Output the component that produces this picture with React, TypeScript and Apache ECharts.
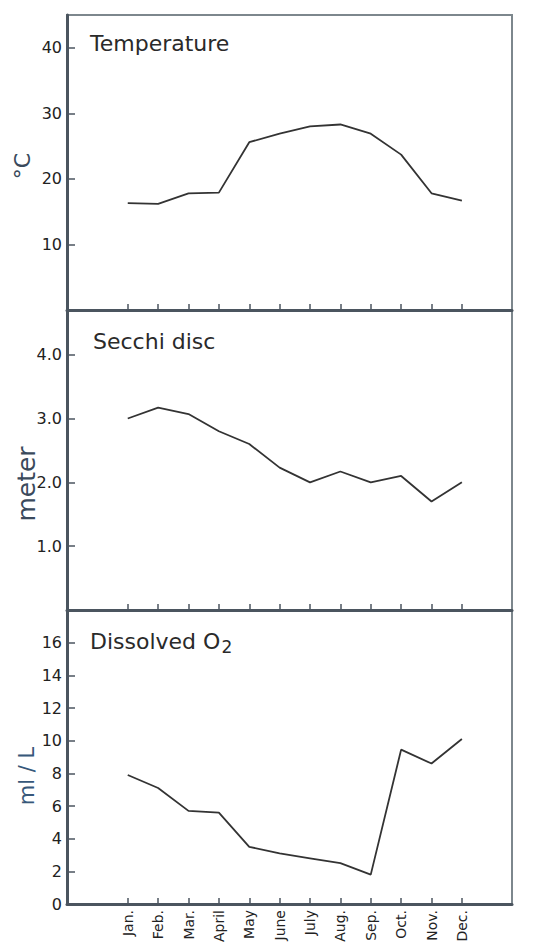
import React, { useEffect, useRef } from "react";
import * as echarts from "echarts";

const months = ["Jan.", "Feb.", "Mar.", "April", "May", "June", "July", "Aug.", "Sep.", "Oct.", "Nov.", "Dec."];
const temperature = [16.3, 16.2, 17.8, 17.9, 25.6, 26.9, 28.0, 28.3, 26.9, 23.7, 17.8, 16.7];
const secchi = [3.0, 3.17, 3.07, 2.8, 2.6, 2.23, 2.0, 2.17, 2.0, 2.1, 1.7, 2.0];
const oxygen = [7.9, 7.1, 5.7, 5.6, 3.5, 3.1, 2.8, 2.5, 1.8, 9.45, 8.6, 10.1];
const tempTicks = [10, 20, 30, 40];
const secchiTicks = [1, 2, 3, 4];
const oxygenTicks = [0, 2, 4, 6, 8, 10, 12, 14, 16];

const FONT = "DejaVu Sans";
const AXIS_COLOR = "#4b555f";
const TEXT_COLOR = "#222";
const LINE_COLOR = "#333";

export default function App() {
  const ref = useRef<HTMLDivElement>(null);
  useEffect(() => {
    if (!ref.current) return;
    const chart = echarts.init(ref.current, null, { renderer: "svg" });
    const monthIdx = months.map((_, i) => i + 1);
    const toData = (arr: number[]) => arr.map((v, i) => [i + 1, v]);

    const grids = [
      { left: 67, right: 38, top: 15, height: 295 },
      { left: 67, right: 38, top: 310, height: 300 },
      { left: 67, right: 38, top: 610, height: 294 },
    ].map((g) => ({ ...g, show: true, borderColor: "#7d878d", borderWidth: 2, containLabel: false }));

    const xAxes = [0, 1, 2].map((gi) => ({
      type: "value",
      gridIndex: gi,
      min: -1.0,
      max: 13.65,
      axisLine: { show: true, onZero: false, lineStyle: { color: AXIS_COLOR, width: 3 } },
      axisTick: {
        show: true,
        inside: true,
        length: 6,
        customValues: monthIdx,
        lineStyle: { color: AXIS_COLOR, width: 1.5 },
      },
      axisLabel: {
        show: gi === 2,
        customValues: monthIdx,
        rotate: 90,
        margin: 6,
        fontSize: 14,
        fontFamily: FONT,
        color: TEXT_COLOR,
        formatter: (v: number) => months[Math.round(v) - 1] ?? "",
      },
      splitLine: { show: false },
    }));

    const yCommon = {
      type: "value",
      axisLine: { show: true, onZero: false, lineStyle: { color: AXIS_COLOR, width: 3 } },
      axisTick: { show: true, inside: true, length: 8, lineStyle: { color: AXIS_COLOR, width: 1.5 } },
      splitLine: { show: false },
    };
    const labelStyle = { fontSize: 16, fontFamily: FONT, color: TEXT_COLOR, margin: 5 };

    const yAxes = [
      {
        ...yCommon,
        gridIndex: 0,
        min: 0,
        max: 45,
        axisTick: { ...yCommon.axisTick, customValues: tempTicks },
        axisLabel: { ...labelStyle, customValues: tempTicks, formatter: (v: number) => String(v) },
      },
      {
        ...yCommon,
        gridIndex: 1,
        min: 0,
        max: 4.7,
        axisTick: { ...yCommon.axisTick, customValues: secchiTicks },
        axisLabel: { ...labelStyle, customValues: secchiTicks, formatter: (v: number) => v.toFixed(1) },
      },
      {
        ...yCommon,
        gridIndex: 2,
        min: 0,
        max: 18,
        axisTick: { ...yCommon.axisTick, customValues: oxygenTicks },
        axisLabel: { ...labelStyle, customValues: oxygenTicks, formatter: (v: number) => String(v) },
      },
    ];

    const lineSeries = (data: number[], gi: number) => ({
      type: "line",
      xAxisIndex: gi,
      yAxisIndex: gi,
      data: toData(data),
      symbol: "none",
      lineStyle: { color: LINE_COLOR, width: 1.8 },
    });

    const titleStyle = { fontSize: 22, fontFamily: FONT, fill: "#2a2a2a" };
    const axisNameStyle = { fontSize: 22, fontFamily: FONT, fill: "#3a4a5c", align: "center", verticalAlign: "middle" };

    chart.setOption({
      animation: false,
      backgroundColor: "#ffffff",
      grid: grids,
      xAxis: xAxes,
      yAxis: yAxes,
      series: [lineSeries(temperature, 0), lineSeries(secchi, 1), lineSeries(oxygen, 2)],
      graphic: [
        { type: "text", left: 90, top: 32, style: { ...titleStyle, text: "Temperature" } },
        { type: "text", left: 93, top: 330, style: { ...titleStyle, text: "Secchi disc" } },
        {
          type: "text",
          left: 90,
          top: 630,
          style: {
            ...titleStyle,
            text: "{a|Dissolved O}{b|2}",
            rich: {
              a: { fontSize: 22, fontFamily: FONT, color: "#2a2a2a" },
              b: { fontSize: 17, fontFamily: FONT, color: "#2a2a2a", padding: [12, 0, 0, 1] },
            },
          },
        },
        { type: "text", x: 22, y: 166, rotation: Math.PI / 2, style: { ...axisNameStyle, text: "°C" } },
        { type: "text", x: 26, y: 484, rotation: Math.PI / 2, style: { ...axisNameStyle, fontSize: 25, text: "meter" } },
        { type: "text", x: 27, y: 776, rotation: Math.PI / 2, style: { ...axisNameStyle, fontSize: 21, fill: "#37587a", text: "ml / L" } },
      ],
    });
    return () => chart.dispose();
  }, []);
  return <div ref={ref} style={{ position: "fixed", left: 0, top: 0, width: 550, height: 950 }} />;
}
